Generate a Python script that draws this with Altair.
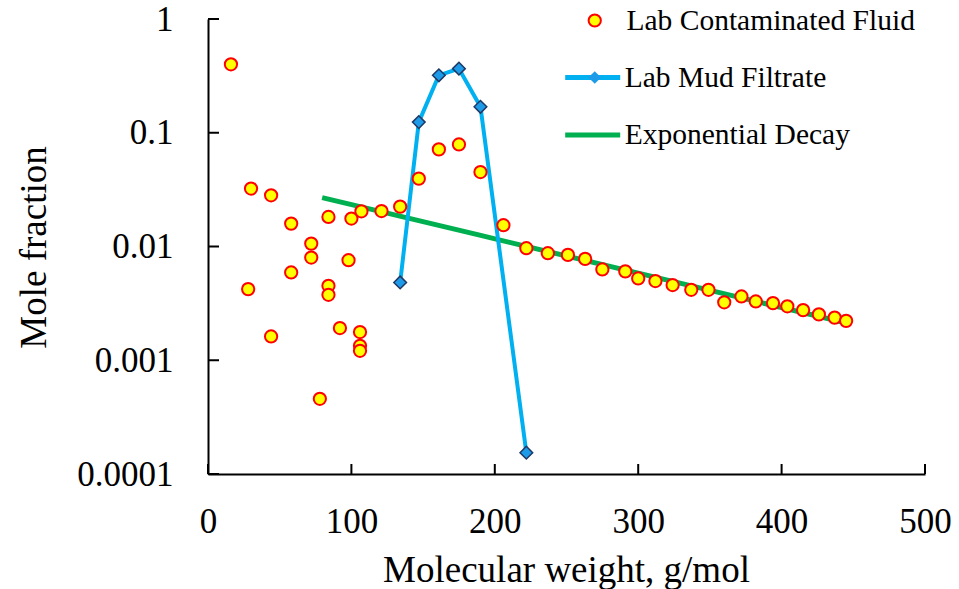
import altair as alt
import pandas as pd

FONT = "Liberation Serif, Times New Roman, Tinos, serif"

# Lab contaminated fluid (circles)
contam_mw = [16, 30, 44, 58, 84, 100, 107, 121, 134, 147, 161, 175, 190, 206,
             72, 72, 98, 58, 28, 84, 84, 92, 44, 106, 106, 106, 78,
             222, 237, 251, 263, 275, 291, 300, 312, 324, 337, 349, 360, 372,
             382, 394, 404, 415, 426, 437, 445]
contam_frac = [0.40, 0.0323, 0.0282, 0.0159, 0.0182, 0.0176, 0.0204, 0.0205, 0.0224,
               0.0395, 0.0714, 0.0789, 0.0451, 0.0154,
               0.0106, 0.0080, 0.00758, 0.00591, 0.00422, 0.00451, 0.00376, 0.00192,
               0.00162, 0.00177, 0.00134, 0.00121, 0.000458,
               0.00966, 0.00873, 0.00844, 0.00778, 0.00628, 0.00604, 0.00524, 0.00497,
               0.00458, 0.00416, 0.00416, 0.00323, 0.00364, 0.00329, 0.00318, 0.00298,
               0.00276, 0.00253, 0.00237, 0.00222]

# Lab mud filtrate (line with diamonds)
mud_mw = [134, 147, 161, 175, 190, 222]
mud_frac = [0.00483, 0.124, 0.320, 0.366, 0.169, 0.000154]

# Exponential decay
decay_mw = [79.6, 188, 441.5]
decay_frac = [0.0269, 0.0127, 0.00218]

x_ticks = [0, 100, 200, 300, 400, 500]
y_ticks = [1, 0.1, 0.01, 0.001, 0.0001]

S_CONT = "Lab Contaminated Fluid"
S_MUD = "Lab Mud Filtrate"
S_EXP = "Exponential Decay"

df_c = pd.DataFrame({"mw": contam_mw, "frac": contam_frac, "series": S_CONT})
df_m = pd.DataFrame({"mw": mud_mw, "frac": mud_frac, "series": S_MUD})
df_e = pd.DataFrame({"mw": decay_mw, "frac": decay_frac, "series": S_EXP})
df_xt = pd.DataFrame({"mw": x_ticks, "frac": [min(y_ticks)] * len(x_ticks)})
df_yt = pd.DataFrame({"mw": [min(x_ticks)] * len(y_ticks), "frac": y_ticks})

x_axis = alt.Axis(values=x_ticks, format="d", title="Molecular weight, g/mol", grid=False,
                  ticks=False, tickSize=0, domainColor="black", domainWidth=2,
                  labelFont=FONT, labelFontSize=35, labelColor="black", labelPadding=58,
                  labelBaseline="alphabetic", labelFlush=False, labelOverlap=False,
                  titleFont=FONT, titleFontSize=37, titleFontWeight="normal", titleColor="black",
                  titleX=358, titleY=107, titleBaseline="alphabetic", titleAlign="center")
y_axis = alt.Axis(values=y_ticks, format="~g", title="Mole fraction", grid=False,
                  ticks=False, tickSize=0, domainColor="black", domainWidth=2,
                  labelFont=FONT, labelFontSize=35, labelColor="black", labelPadding=35,
                  labelAlign="right", labelBaseline="middle", labelOverlap=False,
                  titleFont=FONT, titleFontSize=37, titleFontWeight="normal", titleColor="black",
                  titleAngle=270, titleX=-163, titleY=228, titleBaseline="alphabetic",
                  titleAlign="center")

X = alt.X("mw:Q", scale=alt.Scale(domain=[0, 500], nice=False, zero=False), axis=x_axis)
Y = alt.Y("frac:Q", scale=alt.Scale(type="log", domain=[0.0001, 1], nice=False), axis=y_axis)

stroke_scale = alt.Scale(domain=[S_MUD, S_EXP], range=["#00B0F0", "#00B050"])
leg_lines = alt.Legend(title=None, orient="none", legendX=354.7, legendY=44, padding=0,
                       labelFont=FONT, labelFontSize=29.5, labelColor="black", labelLimit=600,
                       labelOffset=2, symbolType="stroke", symbolSize=3025, symbolStrokeWidth=5,
                       clipHeight=29, rowPadding=27.6)
leg_diamond = alt.Legend(title=None, orient="none", legendX=372, legendY=44, padding=0,
                         labelExpr="''", labelFontSize=29.5, labelFont=FONT,
                         symbolType="diamond", symbolSize=160, symbolFillColor="#1E9BE8",
                         symbolStrokeColor="#1F3864", symbolStrokeWidth=1.5, clipHeight=29)
leg_circle = alt.Legend(title=None, orient="none", legendX=372, legendY=-13, padding=0,
                        labelFont=FONT, labelFontSize=29.5, labelColor="black", labelLimit=600,
                        labelOffset=17, symbolType="circle", symbolSize=150,
                        symbolFillColor="#FFFF00", symbolStrokeColor="#FF0000",
                        symbolStrokeWidth=2, clipHeight=29)

green = alt.Chart(df_e).mark_line(strokeWidth=5).encode(
    x=X, y=Y, stroke=alt.Stroke("series:N", scale=stroke_scale, legend=leg_lines))
blue = alt.Chart(df_m).mark_line(strokeWidth=4, strokeJoin="round").encode(
    x=X, y=Y, stroke=alt.Stroke("series:N", scale=stroke_scale, legend=leg_lines))
diamonds = alt.Chart(df_m).mark_point(filled=True, size=160, fill="#1E9BE8", stroke="#1F3864",
                                      strokeWidth=1.5, opacity=1).encode(
    x=X, y=Y,
    shape=alt.Shape("series:N", scale=alt.Scale(domain=[S_MUD], range=["diamond"]),
                    legend=leg_diamond))
circles = alt.Chart(df_c).mark_point(shape="circle", filled=True, size=150, stroke="#FF0000",
                                     strokeWidth=2, opacity=1).encode(
    x=X, y=Y,
    fill=alt.Fill("series:N", scale=alt.Scale(domain=[S_CONT], range=["#FFFF00"]),
                  legend=leg_circle))
yticks = alt.Chart(df_yt).mark_tick(orient="horizontal", size=11, thickness=2, color="black",
                                    xOffset=5.5, opacity=1).encode(x=X, y=Y)
xticks = alt.Chart(df_xt).mark_tick(orient="vertical", size=10, thickness=2, color="black",
                                    yOffset=-5, opacity=1).encode(x=X, y=Y)

chart = alt.layer(green, blue, diamonds, circles, yticks, xticks).properties(
    width=717, height=455,
    autosize=alt.AutoSizeParams(type="none"),
    padding={"left": 208, "top": 19, "right": 34, "bottom": 115},
    background="white",
).configure_view(strokeWidth=0)

chart.save("out.html", embed_options={"renderer": "svg", "actions": False})
